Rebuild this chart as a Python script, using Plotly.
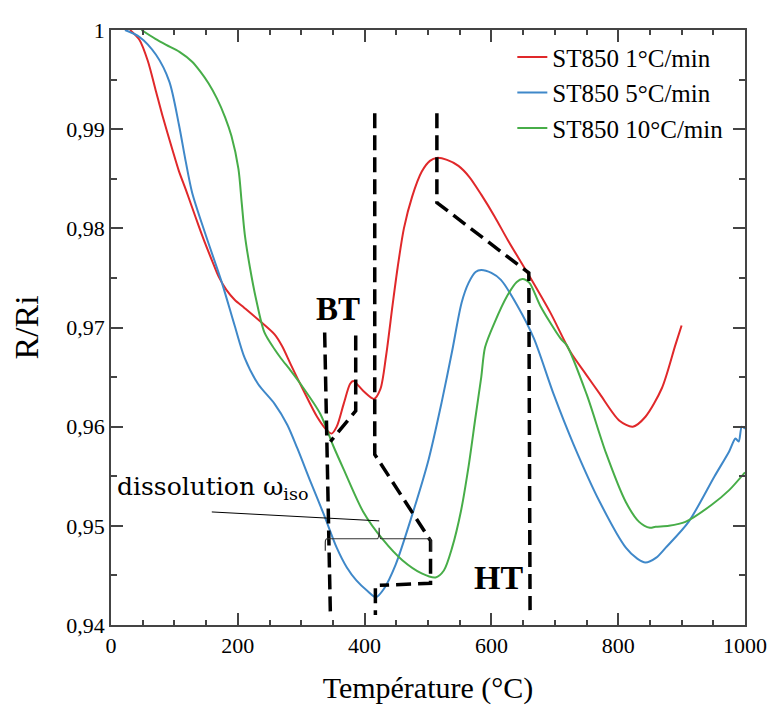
import plotly.graph_objects as go

# ---------------- data ----------------
red_T = [30, 45, 58, 71, 81, 97, 107, 118, 128, 138, 149, 159, 170, 182, 195, 210, 232, 258, 270, 284,
         304, 325, 341, 348, 356, 367, 377, 382, 398, 415, 425, 434, 444, 452, 462, 475, 490, 503, 514, 530,
         548, 565, 584, 605, 626, 657, 693, 724, 750, 771, 802, 823, 843, 869, 890, 900]
red_v = [1.0, 0.9990, 0.9969, 0.9938, 0.9914, 0.9879, 0.9858, 0.9839, 0.9821, 0.9803, 0.9784, 0.9768, 0.9751,
         0.9738, 0.9728, 0.9720, 0.9708, 0.9693, 0.9681, 0.9662, 0.9636, 0.9610, 0.9596, 0.9593, 0.9600,
         0.9623, 0.9643, 0.9646, 0.9636, 0.9628, 0.9638, 0.9672, 0.9722, 0.9760, 0.9800, 0.9832, 0.9857, 0.9868,
         0.9871, 0.9869, 0.9863, 0.9852, 0.9834, 0.9812, 0.9788, 0.9755, 0.9715, 0.9676, 0.9652, 0.9633, 0.9606,
         0.9600, 0.9610, 0.9639, 0.9682, 0.9702]

blue_T = [22, 45, 71, 92, 107, 118, 128, 149, 175, 195, 211, 232, 258, 278, 294, 315, 336, 356, 372, 387, 405,
          418, 430, 449, 475, 501, 522, 538, 553, 564, 575, 584, 600, 615, 641, 667, 698, 729, 771, 812, 830,
          843, 860, 875, 911, 952, 975, 985, 990, 995, 1000]
blue_v = [1.0, 0.9993, 0.9975, 0.9948, 0.9905, 0.9867, 0.9836, 0.9794, 0.9745, 0.9702, 0.9669, 0.9643, 0.9623,
          0.9602, 0.9578, 0.9544, 0.9511, 0.9478, 0.9458, 0.9445, 0.9434, 0.9428, 0.9436, 0.9461, 0.9511, 0.9567,
          0.9626, 0.9676, 0.9725, 0.9745, 0.9756, 0.9758, 0.9755, 0.9748, 0.9722, 0.9689, 0.9633, 0.9583, 0.9524,
          0.9478, 0.9467, 0.9463, 0.9468, 0.9478, 0.9504, 0.9550, 0.9575, 0.9588, 0.9585, 0.9600, 0.9598]

green_T = [48, 70, 87, 108, 128, 141, 154, 167, 180, 190, 201, 206, 211, 219, 229, 242, 258, 268, 284, 299,
           330, 351, 367, 398, 429, 460, 490, 512, 525, 538, 552, 564, 575, 584, 590, 605, 625, 640, 649, 660,
           677, 709, 719, 750, 781, 812, 833, 850, 859, 880, 906, 947, 975, 1000]
green_v = [1.0, 0.9991, 0.9985, 0.9978, 0.9968, 0.9958, 0.9946, 0.9931, 0.9912, 0.9893, 0.9860, 0.9827,
           0.9794, 0.9761, 0.9728, 0.9695, 0.9678, 0.9669, 0.9656, 0.9643, 0.9613, 0.9580, 0.9557, 0.9514,
           0.9486, 0.9465, 0.9452, 0.9448, 0.9455, 0.9478, 0.9515, 0.9560, 0.9610, 0.9650, 0.9680, 0.9705,
           0.9732, 0.9746, 0.9749, 0.9745, 0.9722, 0.9689, 0.9682, 0.9633, 0.9573, 0.9524, 0.9504, 0.9498,
           0.9499, 0.9500, 0.9504, 0.9521, 0.9536, 0.9554]

series_names = ["ST850 1°C/min", "ST850 5°C/min", "ST850 10°C/min"]

y_tickvals = [0.94, 0.95, 0.96, 0.97, 0.98, 0.99, 1.0]
y_ticktext = ["0,94", "0,95", "0,96", "0,97", "0,98", "0,99", "1"]

# annotation guide paths (data units: temperature, R/Ri)
dashed_paths = [
    [(337, 0.9695), (346, 0.9412)],
    [(386, 0.9692), (386, 0.9616), (346, 0.9585)],
    [(416, 0.9916), (416, 0.9572), (504, 0.9485), (504, 0.9442), (424, 0.9440)],
    [(417, 0.9437), (417, 0.9410)],
    [(514, 0.9916), (514, 0.9826), (659, 0.9755), (661, 0.9415)],
]
pointer_line = [(159, 0.9514), (423, 0.9505)]
brace = dict(x0=338, xm=423, x1=505, y=0.9487, ytip=0.9498, yend=0.9475)

labels = [
    dict(text="<b>BT</b>", x=358, y=0.9719, size=33),
    dict(text="<b>HT</b>", x=611, y=0.9448, size=34),
]
diss_text = dict(text="dissolution ω<sub>iso</sub>", x=6, y=0.9538)

# ---------------- figure ----------------
colors = ["#e0282a", "#3f88c9", "#47ad48"]
serif = "Liberation Serif, Times New Roman, serif"

fig = go.Figure()
for T, v, name, c in zip([red_T, blue_T, green_T], [red_v, blue_v, green_v], series_names, colors):
    fig.add_trace(go.Scatter(x=T, y=v, mode="lines", name=name,
                             line=dict(color=c, width=2, shape="spline", smoothing=0.8)))

def path_str(pts):
    return "M" + " L".join(f"{x},{y}" for x, y in pts)

shapes = []
for pts in dashed_paths:
    shapes.append(dict(type="path", xref="x", yref="y", path=path_str(pts),
                       line=dict(color="black", width=3.5, dash="15px,7px")))
shapes.append(dict(type="path", xref="x", yref="y", path=path_str(pointer_line),
                   line=dict(color="black", width=1)))
b = brace
dx = 3
brace_path = (f"M{b['x0']},{b['yend']} L{b['x0']},{b['y'] - 0.0004} "
              f"Q{b['x0']},{b['y']} {b['x0'] + dx},{b['y']} "
              f"L{b['xm'] - dx},{b['y']} Q{b['xm']},{b['y']} {b['xm']},{b['ytip']} "
              f"Q{b['xm']},{b['y']} {b['xm'] + dx},{b['y']} "
              f"L{b['x1'] - dx},{b['y']} Q{b['x1']},{b['y']} {b['x1']},{b['y'] - 0.0004} "
              f"L{b['x1']},{b['yend']}")
shapes.append(dict(type="path", xref="x", yref="y", path=brace_path,
                   line=dict(color="#333", width=1.2)))

annotations = []
for lb in labels:
    annotations.append(dict(x=lb["x"], y=lb["y"], xref="x", yref="y", text=lb["text"], showarrow=False,
                            font=dict(family=serif, size=lb["size"], color="black"),
                            xanchor="center", yanchor="middle"))
annotations.append(dict(x=diss_text["x"], y=diss_text["y"], xref="x", yref="y", text=diss_text["text"],
                        showarrow=False, font=dict(family="DejaVu Serif", size=25, color="black"),
                        xanchor="left", yanchor="middle"))

axis_common = dict(showline=True, linecolor="#444", linewidth=1.5, mirror="ticks", showgrid=False,
                   zeroline=False, ticks="inside", tickcolor="#444", tickwidth=1.5, ticklen=12,
                   ticklabeloverflow="allow",
                   tickfont=dict(family=serif, size=22, color="black"))

# the page body adds an 8px margin, so the figure is 8px smaller and margins shifted
fig.update_layout(
    width=769, height=701,
    margin=dict(l=103, r=23, t=10, b=83),
    paper_bgcolor="white", plot_bgcolor="white",
    showlegend=True,
    legend=dict(x=0.633, y=0.993, xanchor="left", yanchor="top", bgcolor="rgba(0,0,0,0)",
                font=dict(family=serif, size=25, color="black")),
    shapes=shapes,
    annotations=annotations,
)
fig.update_xaxes(range=[0, 1000], tickmode="linear", tick0=0, dtick=200,
                 minor=dict(tickmode="linear", tick0=0, dtick=50, ticks="inside", ticklen=5,
                            tickcolor="#444", tickwidth=1.5),
                 title=dict(text="Température (°C)", font=dict(family=serif, size=30, color="black"),
                            standoff=20),
                 **axis_common)
fig.update_yaxes(range=[0.94, 1.0], tickmode="array", tickvals=y_tickvals, ticktext=y_ticktext,
                 minor=dict(tickmode="linear", tick0=0.94, dtick=0.005, ticks="inside", ticklen=6,
                            tickcolor="#444", tickwidth=1.5),
                 title=dict(text="R/Ri", font=dict(family=serif, size=34, color="black"), standoff=20),
                 **axis_common)

fig.write_html("out.html")
